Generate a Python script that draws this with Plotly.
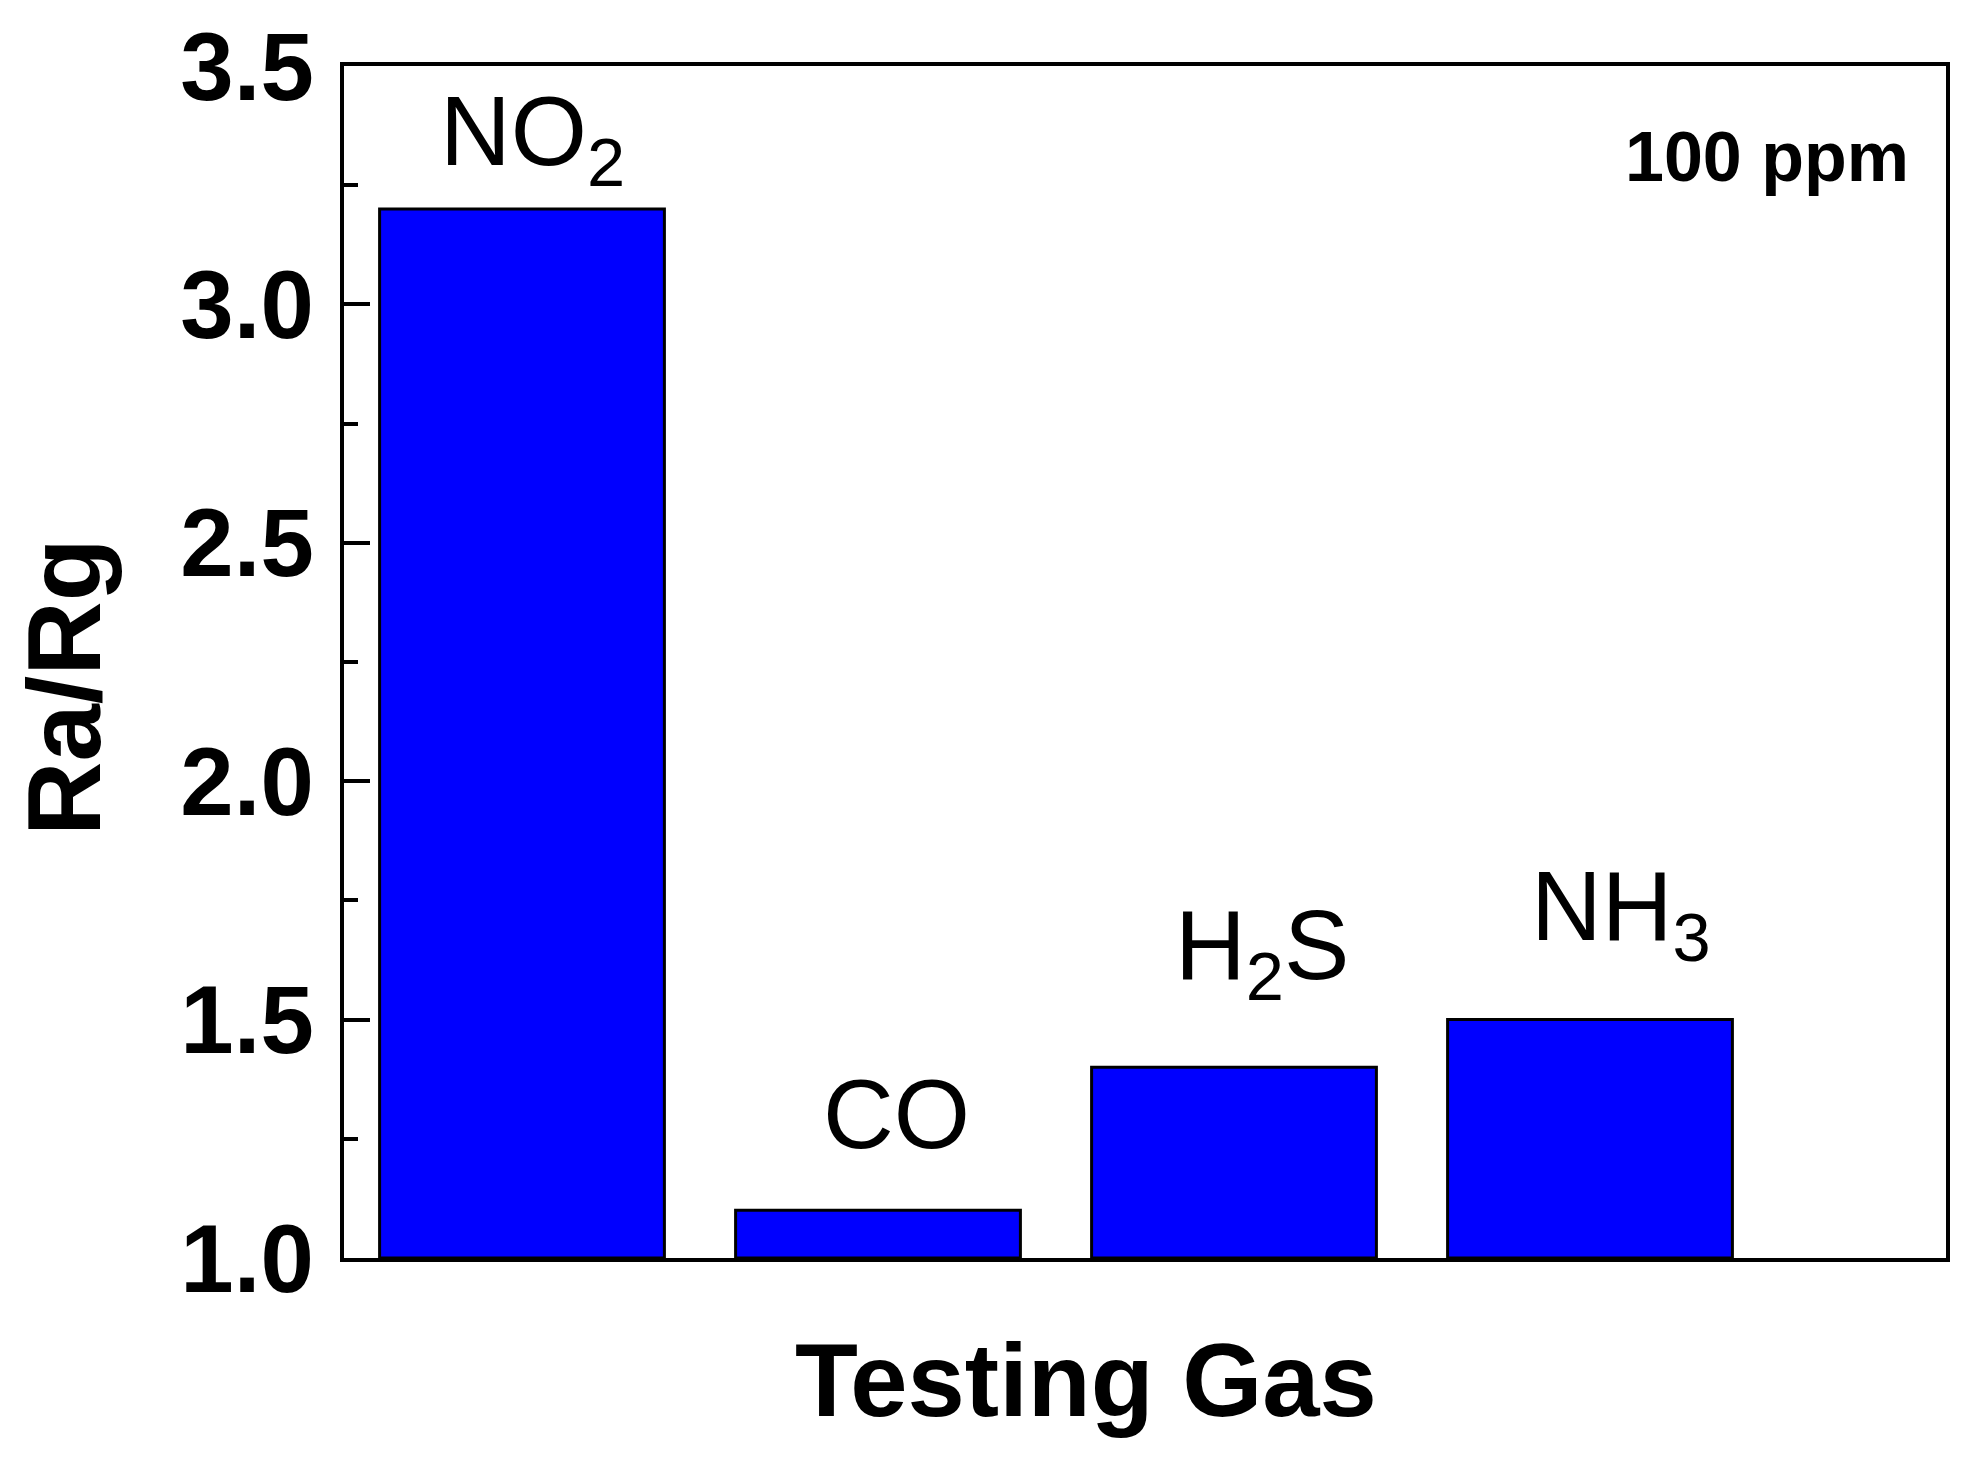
import plotly.graph_objects as go

gases = ["NO<sub>2</sub>", "CO", "H<sub>2</sub>S", "NH<sub>3</sub>"]
response = [3.2, 1.1, 1.4, 1.5]
y_ticks = [1.0, 1.5, 2.0, 2.5, 3.0, 3.5]

label_xshift = [10, 18, 28, 31]
label_yshift = [6, 39, 50, 42]

FONT = "Liberation Sans, Arial, sans-serif"
W, H = 1984, 1463
OFF = 8  # page offset of the plot div
# desired plot-area edges in page pixels
PX_L, PX_R, PX_T, PX_B = 344, 1946, 66, 1258
L, T = PX_L - OFF, PX_T - OFF
R, B = W - PX_R + OFF, H - PX_B + OFF
pw, ph = PX_R - PX_L, PX_B - PX_T


def px(xp):
    return (xp - PX_L) / pw


def py(yp):
    return (PX_B - yp) / ph


x_idx = list(range(len(gases)))

fig = go.Figure()
fig.add_trace(go.Bar(
    x=x_idx, y=[v - 1.0 for v in response], base=1.0, width=0.8,
    marker=dict(color="#0000FF", line=dict(color="black", width=3)),
    hoverinfo="skip",
))

for i, (g, v) in enumerate(zip(gases, response)):
    fig.add_annotation(x=i, y=v, text=g, showarrow=False, xanchor="center", yanchor="bottom",
                       xshift=label_xshift[i], yshift=label_yshift[i],
                       font=dict(family=FONT, size=98, color="black"))

fig.add_annotation(xref="paper", yref="paper", x=px(1911), y=py(157),
                   text="100 ppm", showarrow=False, xanchor="right", yanchor="middle",
                   font=dict(family=FONT, size=70, color="black", weight="bold"))

fig.add_annotation(xref="paper", yref="paper", x=px(64), y=py(687),
                   text="Ra/Rg", textangle=-90, showarrow=False, xanchor="center", yanchor="middle",
                   font=dict(family=FONT, size=103, color="black", weight="bold"))

fig.add_annotation(xref="paper", yref="paper", x=px(1086), y=py(1380),
                   text="Testing Gas", showarrow=False, xanchor="center", yanchor="middle",
                   font=dict(family=FONT, size=103, color="black", weight="bold"))

fig.update_layout(
    template="none",
    width=W, height=H,
    margin=dict(l=L, r=R, t=T, b=B, pad=0, autoexpand=False),
    paper_bgcolor="white", plot_bgcolor="white",
    showlegend=False,
    bargap=0.2,
    xaxis=dict(range=[-0.5, 4.0], showticklabels=False, ticks="", showgrid=False, zeroline=False,
               automargin=False,
               showline=True, linecolor="black", linewidth=4, mirror=True, fixedrange=True),
    yaxis=dict(range=[1.0, 3.5], tickvals=y_ticks, ticktext=[f"{t:.1f}" for t in y_ticks],
               automargin=False,
               ticks="inside", ticklen=26, tickwidth=4, tickcolor="black",
               minor=dict(dtick=0.25, tick0=1.0, ticks="inside", ticklen=14, tickwidth=4, tickcolor="black", showgrid=False),
               ticklabelstandoff=7,
               tickfont=dict(family=FONT, size=96, color="black", weight="bold"),
               showgrid=False, zeroline=False,
               showline=True, linecolor="black", linewidth=4, mirror=True, fixedrange=True),
)

fig.write_html("out.html")
